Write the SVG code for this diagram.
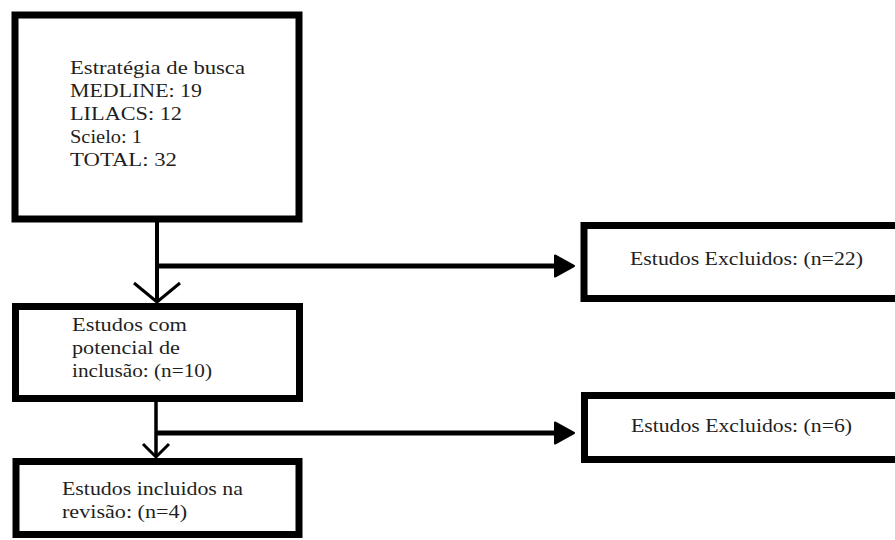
<svg xmlns="http://www.w3.org/2000/svg" width="895" height="540" viewBox="0 0 895 540">
<defs>
<style>
.box{fill:#fff;stroke:#000;stroke-width:7}
.t{font-family:"Liberation Serif","Times New Roman",serif;font-size:19px;fill:#1f1f1f}
.ln{stroke:#000;fill:none}
.v{stroke:#000;fill:none;stroke-width:3}
</style>
<marker id="arrow" markerUnits="userSpaceOnUse" viewBox="0 0 24 24" refX="4" refY="12" markerWidth="24" markerHeight="24" orient="auto">
<path d="M3,1.5 L22,12 L3,22.5 Z" fill="#000" stroke="#000" stroke-width="2" stroke-linejoin="round"/>
</marker>
</defs>
<rect width="895" height="540" fill="#fff"/>
<g id="connectors">
<line class="ln" x1="157" y1="222" x2="157" y2="301" stroke-width="4"/>
<polyline class="v" points="134,283 157,302 180,283"/>
<line class="ln" x1="157" y1="266" x2="556" y2="266" stroke-width="5" marker-end="url(#arrow)"/>
<line class="ln" x1="156" y1="402" x2="156" y2="456" stroke-width="3.5"/>
<polyline class="v" points="143,444 156,457 169,444"/>
<line class="ln" x1="156" y1="433" x2="556" y2="433" stroke-width="5" marker-end="url(#arrow)"/>
</g>
<g id="busca">
<rect class="box" x="15" y="15" width="284" height="204"/>
<text class="t" x="70" y="74" textLength="175" lengthAdjust="spacingAndGlyphs">Estratégia de busca</text>
<text class="t" x="70" y="97" textLength="132" lengthAdjust="spacingAndGlyphs">MEDLINE: 19</text>
<text class="t" x="70" y="120" textLength="112" lengthAdjust="spacingAndGlyphs">LILACS: 12</text>
<text class="t" x="70" y="143" textLength="72" lengthAdjust="spacingAndGlyphs">Scielo: 1</text>
<text class="t" x="70" y="166" textLength="107" lengthAdjust="spacingAndGlyphs">TOTAL: 32</text>
</g>
<g id="potencial">
<rect class="box" x="15.5" y="306.5" width="284" height="92"/>
<text class="t" x="72" y="331" textLength="115" lengthAdjust="spacingAndGlyphs">Estudos com</text>
<text class="t" x="72" y="354" textLength="108" lengthAdjust="spacingAndGlyphs">potencial de</text>
<text class="t" x="72" y="377" textLength="140" lengthAdjust="spacingAndGlyphs">inclusão: (n=10)</text>
</g>
<g id="incluidos">
<rect class="box" x="16" y="461.5" width="283" height="73"/>
<text class="t" x="62" y="495" textLength="181" lengthAdjust="spacingAndGlyphs">Estudos incluidos na</text>
<text class="t" x="62" y="518" textLength="125" lengthAdjust="spacingAndGlyphs">revisão: (n=4)</text>
</g>
<g id="excluidos1">
<rect class="box" x="584" y="225.5" width="330" height="73"/>
<text class="t" x="630" y="265" textLength="233" lengthAdjust="spacingAndGlyphs">Estudos Excluidos: (n=22)</text>
</g>
<g id="excluidos2">
<rect class="box" x="584.5" y="395.5" width="330" height="64"/>
<text class="t" x="631" y="432" textLength="221" lengthAdjust="spacingAndGlyphs">Estudos Excluidos: (n=6)</text>
</g>
</svg>
